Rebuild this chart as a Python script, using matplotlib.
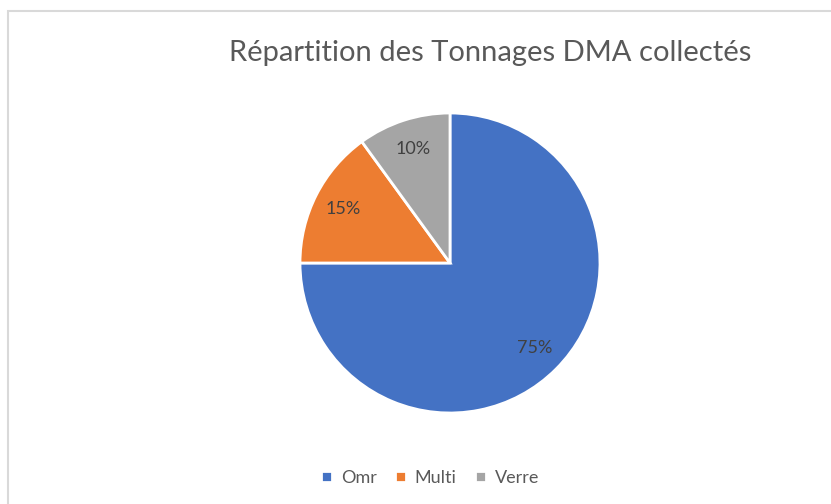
import matplotlib
matplotlib.use("Agg")
import matplotlib.pyplot as plt
from matplotlib.patches import Rectangle

# data
labels = ["Omr", "Multi", "Verre"]
shares = [75, 15, 10]
colors = ["#4472C4", "#ED7D31", "#A5A5A5"]

plt.rcParams['font.family'] = ['Lato', 'DejaVu Sans']

fig = plt.figure(figsize=(8.31, 5.04), dpi=100)

# chart frame like excel
fig.patches.append(Rectangle((8/831, -0.05), 1.0, (504-11)/504 + 0.05,
                             transform=fig.transFigure, fill=False,
                             edgecolor="#D9D9D9", lw=1.5))

ax = fig.add_axes([300/831, 91/504, 300/831, 300/504])
wedges, texts, autotexts = ax.pie(shares, colors=colors, startangle=90,
                                  counterclock=False, autopct="%d%%",
                                  pctdistance=0.8,
                                  wedgeprops=dict(edgecolor="white", linewidth=2),
                                  textprops=dict(color="#404040", fontsize=13))
ax.set_xlim(-1, 1)
ax.set_ylim(-1, 1)
ax.set_aspect("equal")

fig.text(490/831, 1 - 53/504, "Répartition des Tonnages DMA collectés",
         ha="center", va="center", fontsize=21, color="#595959")

fig.legend(wedges, labels, loc="center", bbox_to_anchor=(430/831, 1 - 478/504),
           ncol=3, frameon=False, fontsize=13, labelcolor="#595959",
           handlelength=0.6, handleheight=0.6, handletextpad=0.5, columnspacing=1.0)

fig.savefig("out.png", dpi=100)
